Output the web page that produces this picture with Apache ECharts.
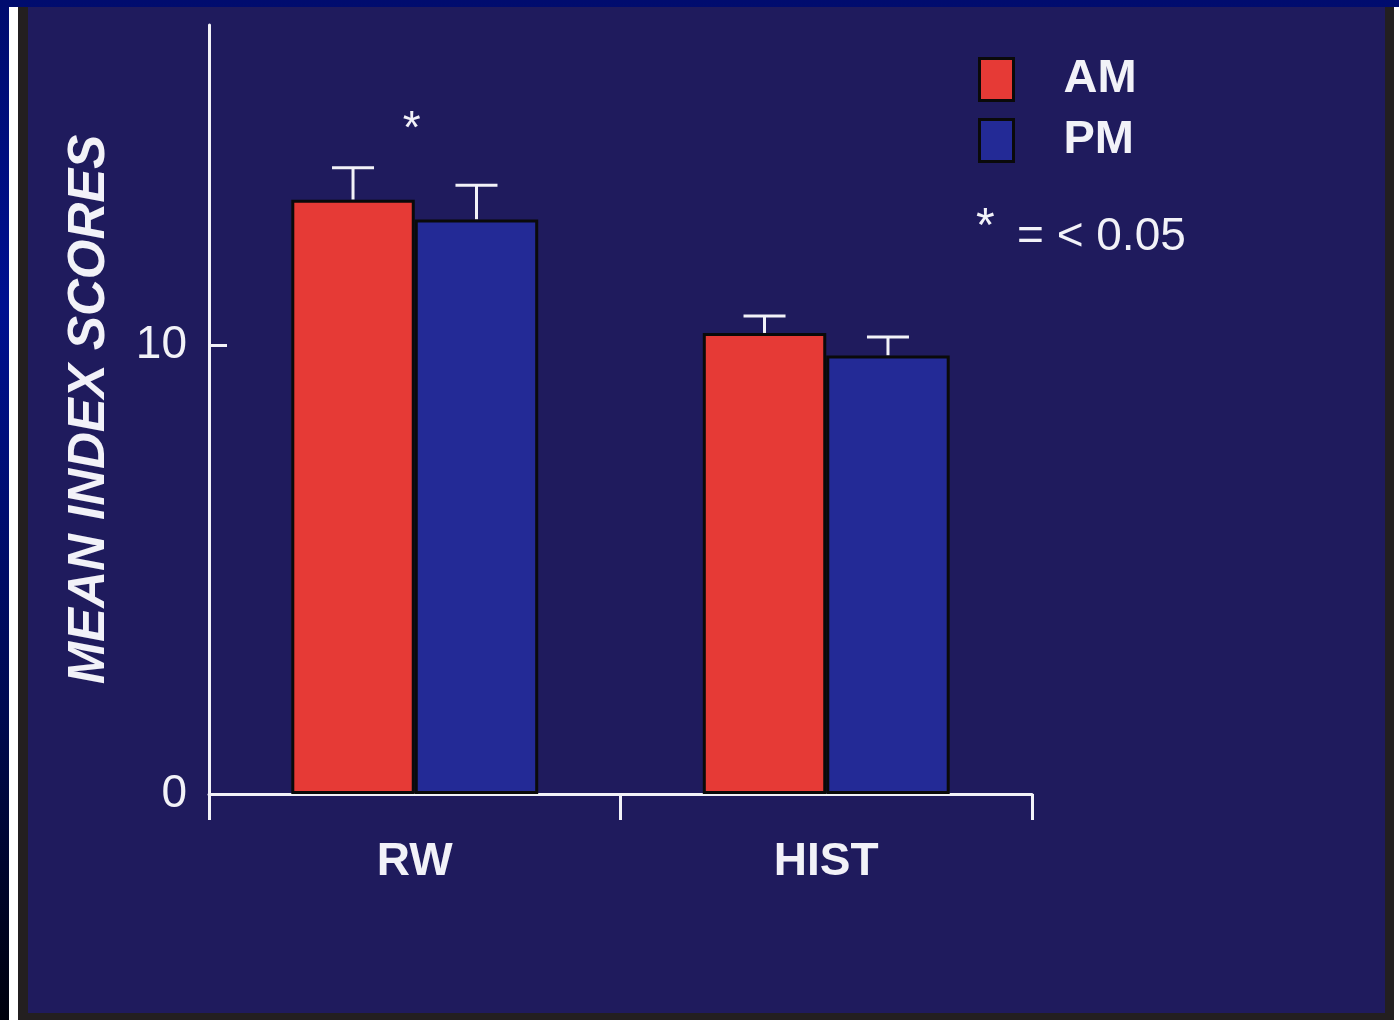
<!DOCTYPE html>
<html>
<head>
<meta charset="utf-8">
<script src="https://cdn.jsdelivr.net/npm/echarts@6/dist/echarts.min.js"></script>
<style>
  html, body { margin: 0; padding: 0; width: 1399px; height: 1020px; overflow: hidden;
    background: linear-gradient(to bottom, #000c6e 0%, #001090 30%, #000a50 70%, #00000c 100%); }
  #white { position: absolute; left: 9px; top: 7px; width: 1390px; height: 1013px; background: #ffffff; }
  #frame { position: absolute; left: 18px; top: 7px; width: 1376px; height: 1013px; background: #231f20; }
  #panel { position: absolute; left: 28px; top: 7px; width: 1357px; height: 1006px; background: #1f1b5d; }
  #chart { position: absolute; left: 0; top: 0; width: 1399px; height: 1020px; }
</style>
</head>
<body>
<div id="white"></div>
<div id="frame"></div>
<div id="panel"></div>
<div id="chart"></div>
<script>
// ---- data ----
const categories = ['RW', 'HIST'];
const seriesNames = ['AM', 'PM'];
const amValues = [13.24, 10.27];
const pmValues = [12.80, 9.77];
const amErrTop = [13.95, 10.65];
const pmErrTop = [13.56, 10.18];
const yTickValues = [0, 10];
const sigMarks = [[0, 15.3, '*']];   // significance marker above RW
const sigNote = '= < 0.05';

const FONT = "'Liberation Sans', Arial, sans-serif";
const WHITE = '#f2f2f8';
const RED = '#e63a36';
const BLUE = '#232a96';

const chart = echarts.init(document.getElementById('chart'), null, { renderer: 'canvas' });

function errorSeries(name, values, tops, offset) {
  return {
    type: 'custom',
    name: name + '-err',
    z: 1,
    silent: true,
    data: values.map((v, i) => [i, v, tops[i]]),
    renderItem: function (params, api) {
      const base = api.coord([api.value(0), api.value(1)]);
      const top = api.coord([api.value(0), api.value(2)]);
      const band = api.size([1, 0])[0];
      const xc = base[0] + offset * band;
      const half = 21;
      return {
        type: 'group',
        children: [
          { type: 'line', shape: { x1: xc, y1: base[1], x2: xc, y2: top[1] },
            style: { stroke: WHITE, lineWidth: 3 } },
          { type: 'line', shape: { x1: xc - half, y1: top[1], x2: xc + half, y2: top[1] },
            style: { stroke: WHITE, lineWidth: 3 } }
        ]
      };
    }
  };
}

const option = {
  backgroundColor: 'transparent',
  animation: false,
  grid: { left: 209, right: 367, top: 25, bottom: 226, containLabel: false },
  legend: {
    data: seriesNames,
    orient: 'vertical',
    left: 978,
    top: 56,
    padding: 0,
    icon: 'rect',
    itemWidth: 34,
    itemHeight: 42,
    itemGap: 14,
    selectedMode: false,
    itemStyle: { borderColor: '#0a0a0a', borderWidth: 3 },
    textStyle: { color: WHITE, fontFamily: FONT, fontWeight: 'bold', fontSize: 47,
      padding: [0, 0, 0, 45] }
  },
  xAxis: {
    type: 'category',
    data: categories,
    boundaryGap: true,
    axisLine: { lineStyle: { color: WHITE, width: 3 } },
    axisTick: { show: true, length: 26, lineStyle: { color: WHITE, width: 3 } },
    axisLabel: { color: WHITE, fontFamily: FONT, fontWeight: 'bold', fontSize: 46, margin: 45 }
  },
  yAxis: {
    type: 'value',
    min: 0,
    max: 17.13,
    interval: 10,
    name: 'MEAN INDEX SCORES',
    nameLocation: 'middle',
    nameRotate: 90,
    nameGap: 94,
    nameTextStyle: { color: WHITE, fontFamily: FONT,
      fontWeight: 'bold', fontStyle: 'italic', fontSize: 51 },
    splitLine: { show: false },
    axisLine: { show: true, lineStyle: { color: WHITE, width: 3 } },
    axisTick: { show: true, inside: true, length: 18, customValues: yTickValues,
      lineStyle: { color: WHITE, width: 3 } },
    axisLabel: { color: WHITE, fontFamily: FONT, fontSize: 46, margin: 22,
      customValues: yTickValues }
  },
  series: [
    errorSeries('AM', amValues, amErrTop, -0.15),
    errorSeries('PM', pmValues, pmErrTop, 0.15),
    {
      type: 'bar', name: 'AM', data: amValues, barWidth: '30%', barGap: '0%', z: 2,
      itemStyle: { color: RED, borderColor: '#0a0a0a', borderWidth: 3 }
    },
    {
      type: 'bar', name: 'PM', data: pmValues, barWidth: '30%', barGap: '0%', z: 2,
      itemStyle: { color: BLUE, borderColor: '#0a0a0a', borderWidth: 3 }
    },
    {
      type: 'custom',
      name: 'sig',
      silent: true,
      z: 3,
      data: sigMarks,
      renderItem: function (params, api) {
        const p = api.coord([api.value(0), api.value(1)]);
        return { type: 'text', x: p[0] - 3, y: p[1],
          style: { text: sigMarks[params.dataIndex][2], fill: WHITE, fontFamily: FONT,
            fontSize: 46, align: 'center', verticalAlign: 'top' } };
      }
    }
  ],
  graphic: [
    { type: 'text', left: 976, top: 204,
      style: { text: '*', fill: WHITE, fontFamily: FONT, fontSize: 48 } },
    { type: 'text', left: 1017, top: 214,
      style: { text: sigNote, fill: WHITE, fontFamily: FONT, fontSize: 46 } }
  ]
};

chart.setOption(option);
</script>
</body>
</html>
